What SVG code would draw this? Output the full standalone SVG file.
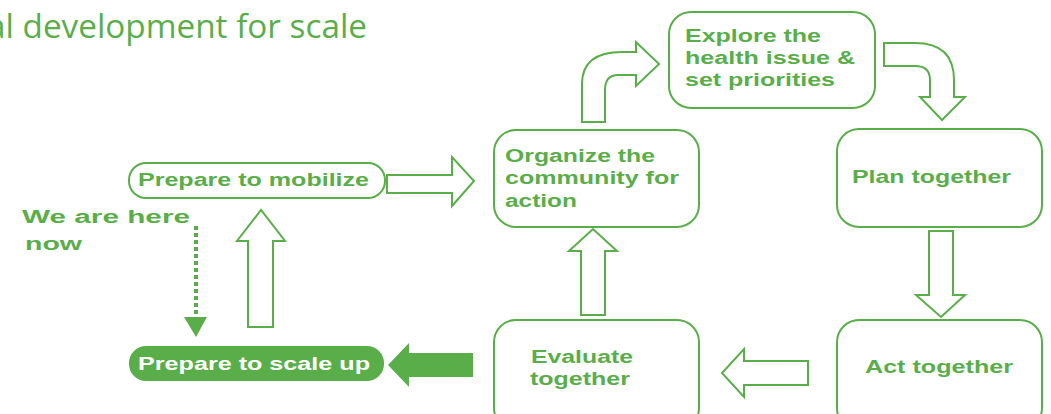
<svg xmlns="http://www.w3.org/2000/svg" width="1051" height="414" viewBox="0 0 1051 414">
<style>
.box{fill:#fff;stroke:#5aae4a;stroke-width:2}
.fbox{fill:#5aae4a;stroke:#5aae4a;stroke-width:2}
.ha{fill:#fff;stroke:#5aae4a;stroke-width:2;stroke-linejoin:miter}
.fa{fill:#5aae4a;stroke:none}
.t{font-family:"Liberation Sans",Arial,sans-serif;font-weight:bold;font-size:18px;fill:#5aae4a}
.w{fill:#fff}
.title{font-family:"Open Sans","Noto Sans",sans-serif;font-size:33px;fill:#5aae4a}
</style>
<rect width="1051" height="414" fill="#fff"/>
<text class="title" x="-13" y="38" textLength="380" lengthAdjust="spacingAndGlyphs">al development for scale</text>

<g id="connectors">
  <path class="ha" d="M387,175 L452,175 L452,157 L474,181 L452,206 L452,193 L387,193 Z"/>
  <path class="ha" d="M582,122 L582,84 Q582,52 622,52 L636,52 L636,42 L659,64 L636,86 L636,75 L618,75 Q605,75 605,90 L605,122 Z"/>
  <path class="ha" d="M884,43 L915,43 Q954,43 954,80 L954,97 L965,97 L942,120 L920,97 L930,97 L930,80 Q930,66 915,66 L884,66 Z"/>
  <path class="ha" d="M929,231 L953,231 L953,295 L965,295 L941,317 L916,295 L929,295 Z"/>
  <path class="ha" d="M808,361 L744,361 L744,349 L722,373 L744,397 L744,385 L808,385 Z"/>
  <path class="ha" d="M581,315 L581,251 L569,251 L593,229 L617,251 L605,251 L605,315 Z"/>
  <path class="fa" d="M473,353 L409,353 L409,343 L388,365 L409,387 L409,377 L473,377 Z"/>
  <path class="ha" d="M248,327 L248,241 L237,241 L261,210 L285,241 L273,241 L273,327 Z"/>
  <line x1="196" y1="226" x2="196" y2="318" stroke="#5aae4a" stroke-width="4" stroke-dasharray="4 3"/>
  <path class="fa" d="M184,317 L207,317 L196,337 Z"/>
</g>

<g id="here">
  <text class="t" x="22" y="223" font-size="20" textLength="168" lengthAdjust="spacingAndGlyphs">We are here</text>
  <text class="t" x="25" y="250" font-size="20" textLength="57" lengthAdjust="spacingAndGlyphs">now</text>
</g>

<g id="mobilize">
  <rect class="box" x="129" y="163" width="256" height="35" rx="17"/>
  <text class="t" x="138" y="186" textLength="231" lengthAdjust="spacingAndGlyphs">Prepare to mobilize</text>
</g>

<g id="scaleup">
  <rect class="fbox" x="130" y="347" width="253" height="33" rx="16"/>
  <text class="t w" x="138" y="370" textLength="232" lengthAdjust="spacingAndGlyphs">Prepare to scale up</text>
</g>

<g id="organize">
  <rect class="box" x="494" y="130" width="205" height="97" rx="22"/>
  <text class="t" x="505" y="162" textLength="150" lengthAdjust="spacingAndGlyphs">Organize the</text>
  <text class="t" x="505" y="184" textLength="174" lengthAdjust="spacingAndGlyphs">community for</text>
  <text class="t" x="505" y="207" textLength="72" lengthAdjust="spacingAndGlyphs">action</text>
</g>

<g id="explore">
  <rect class="box" x="669" y="12" width="206" height="96" rx="22"/>
  <text class="t" x="685" y="42" textLength="136" lengthAdjust="spacingAndGlyphs">Explore the</text>
  <text class="t" x="685" y="64" textLength="170" lengthAdjust="spacingAndGlyphs">health issue &amp;</text>
  <text class="t" x="685" y="86" textLength="150" lengthAdjust="spacingAndGlyphs">set priorities</text>
</g>

<g id="plan">
  <rect class="box" x="837" y="129" width="205" height="98" rx="22"/>
  <text class="t" x="852" y="183" textLength="159" lengthAdjust="spacingAndGlyphs">Plan together</text>
</g>

<g id="act">
  <rect class="box" x="837" y="320" width="205" height="110" rx="22"/>
  <text class="t" x="865" y="373" textLength="148" lengthAdjust="spacingAndGlyphs">Act together</text>
</g>

<g id="evaluate">
  <rect class="box" x="494" y="320" width="205" height="110" rx="22"/>
  <text class="t" x="531" y="363" textLength="102" lengthAdjust="spacingAndGlyphs">Evaluate</text>
  <text class="t" x="530" y="385" textLength="100" lengthAdjust="spacingAndGlyphs">together</text>
</g>
</svg>
